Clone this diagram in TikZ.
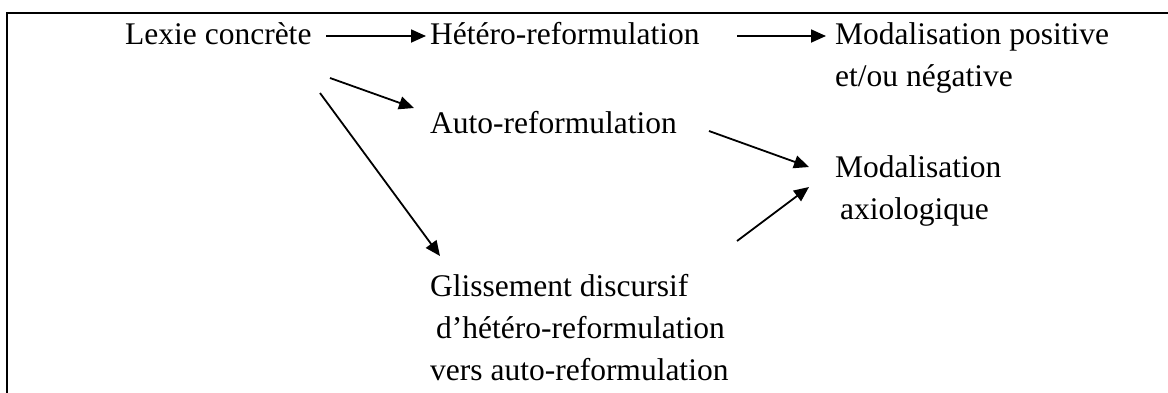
\documentclass[tikz,border=0pt]{standalone}
\usepackage{fontspec}
\setmainfont{Liberation Serif}
\usetikzlibrary{arrows.meta}
\begin{document}
\begin{tikzpicture}[x=1pt,y=-1pt,
  lbl/.style={anchor=base west,inner sep=0pt,font=\fontsize{31.5}{41}\selectfont},
  flow/.style={line width=1.8pt,-{Triangle[length=15pt,width=13pt]}}]
\useasboundingbox (0,0) rectangle (1168,392);
\begin{scope}
\clip (0,0) rectangle (1168,392);
% open frame: left and top sides
\draw[line width=2.8pt] (7,400) -- (7,13) -- (1170,13);
\end{scope}

% labels
\node[lbl] (lexie)  at (125,44)  {Lexie concrète};
\node[lbl] (hetero) at (430,44)  {Hétéro-reformulation};
\node[lbl] (modpos) at (835,44)  {Modalisation positive};
\node[lbl] (modpos2) at (835,86) {et/ou négative};
\node[lbl] (auto)   at (430,133) {Auto-reformulation};
\node[lbl] (modax)  at (835,177) {Modalisation};
\node[lbl] (modax2) at (840,219) {axiologique};
\node[lbl] (gliss)  at (430,296) {Glissement discursif};
\node[lbl] (gliss2) at (436,338) {d’hétéro-reformulation};
\node[lbl] (gliss3) at (430,380) {vers auto-reformulation};

% arrow end points
\coordinate (a1s) at (326,36);  \coordinate (a1e) at (426,36);
\coordinate (a2s) at (737,36);  \coordinate (a2e) at (826,36);
\coordinate (a3s) at (330,78);  \coordinate (a3e) at (414,108);
\coordinate (a4s) at (320,93);  \coordinate (a4e) at (440,256);
\coordinate (a5s) at (709,131); \coordinate (a5e) at (809,167);
\coordinate (a6s) at (737,241); \coordinate (a6e) at (809,187);

\draw[flow] (a1s) -- (a1e);
\draw[flow] (a2s) -- (a2e);
\draw[flow] (a3s) -- (a3e);
\draw[flow] (a4s) -- (a4e);
\draw[flow] (a5s) -- (a5e);
\draw[flow] (a6s) -- (a6e);
\end{tikzpicture}
\end{document}
